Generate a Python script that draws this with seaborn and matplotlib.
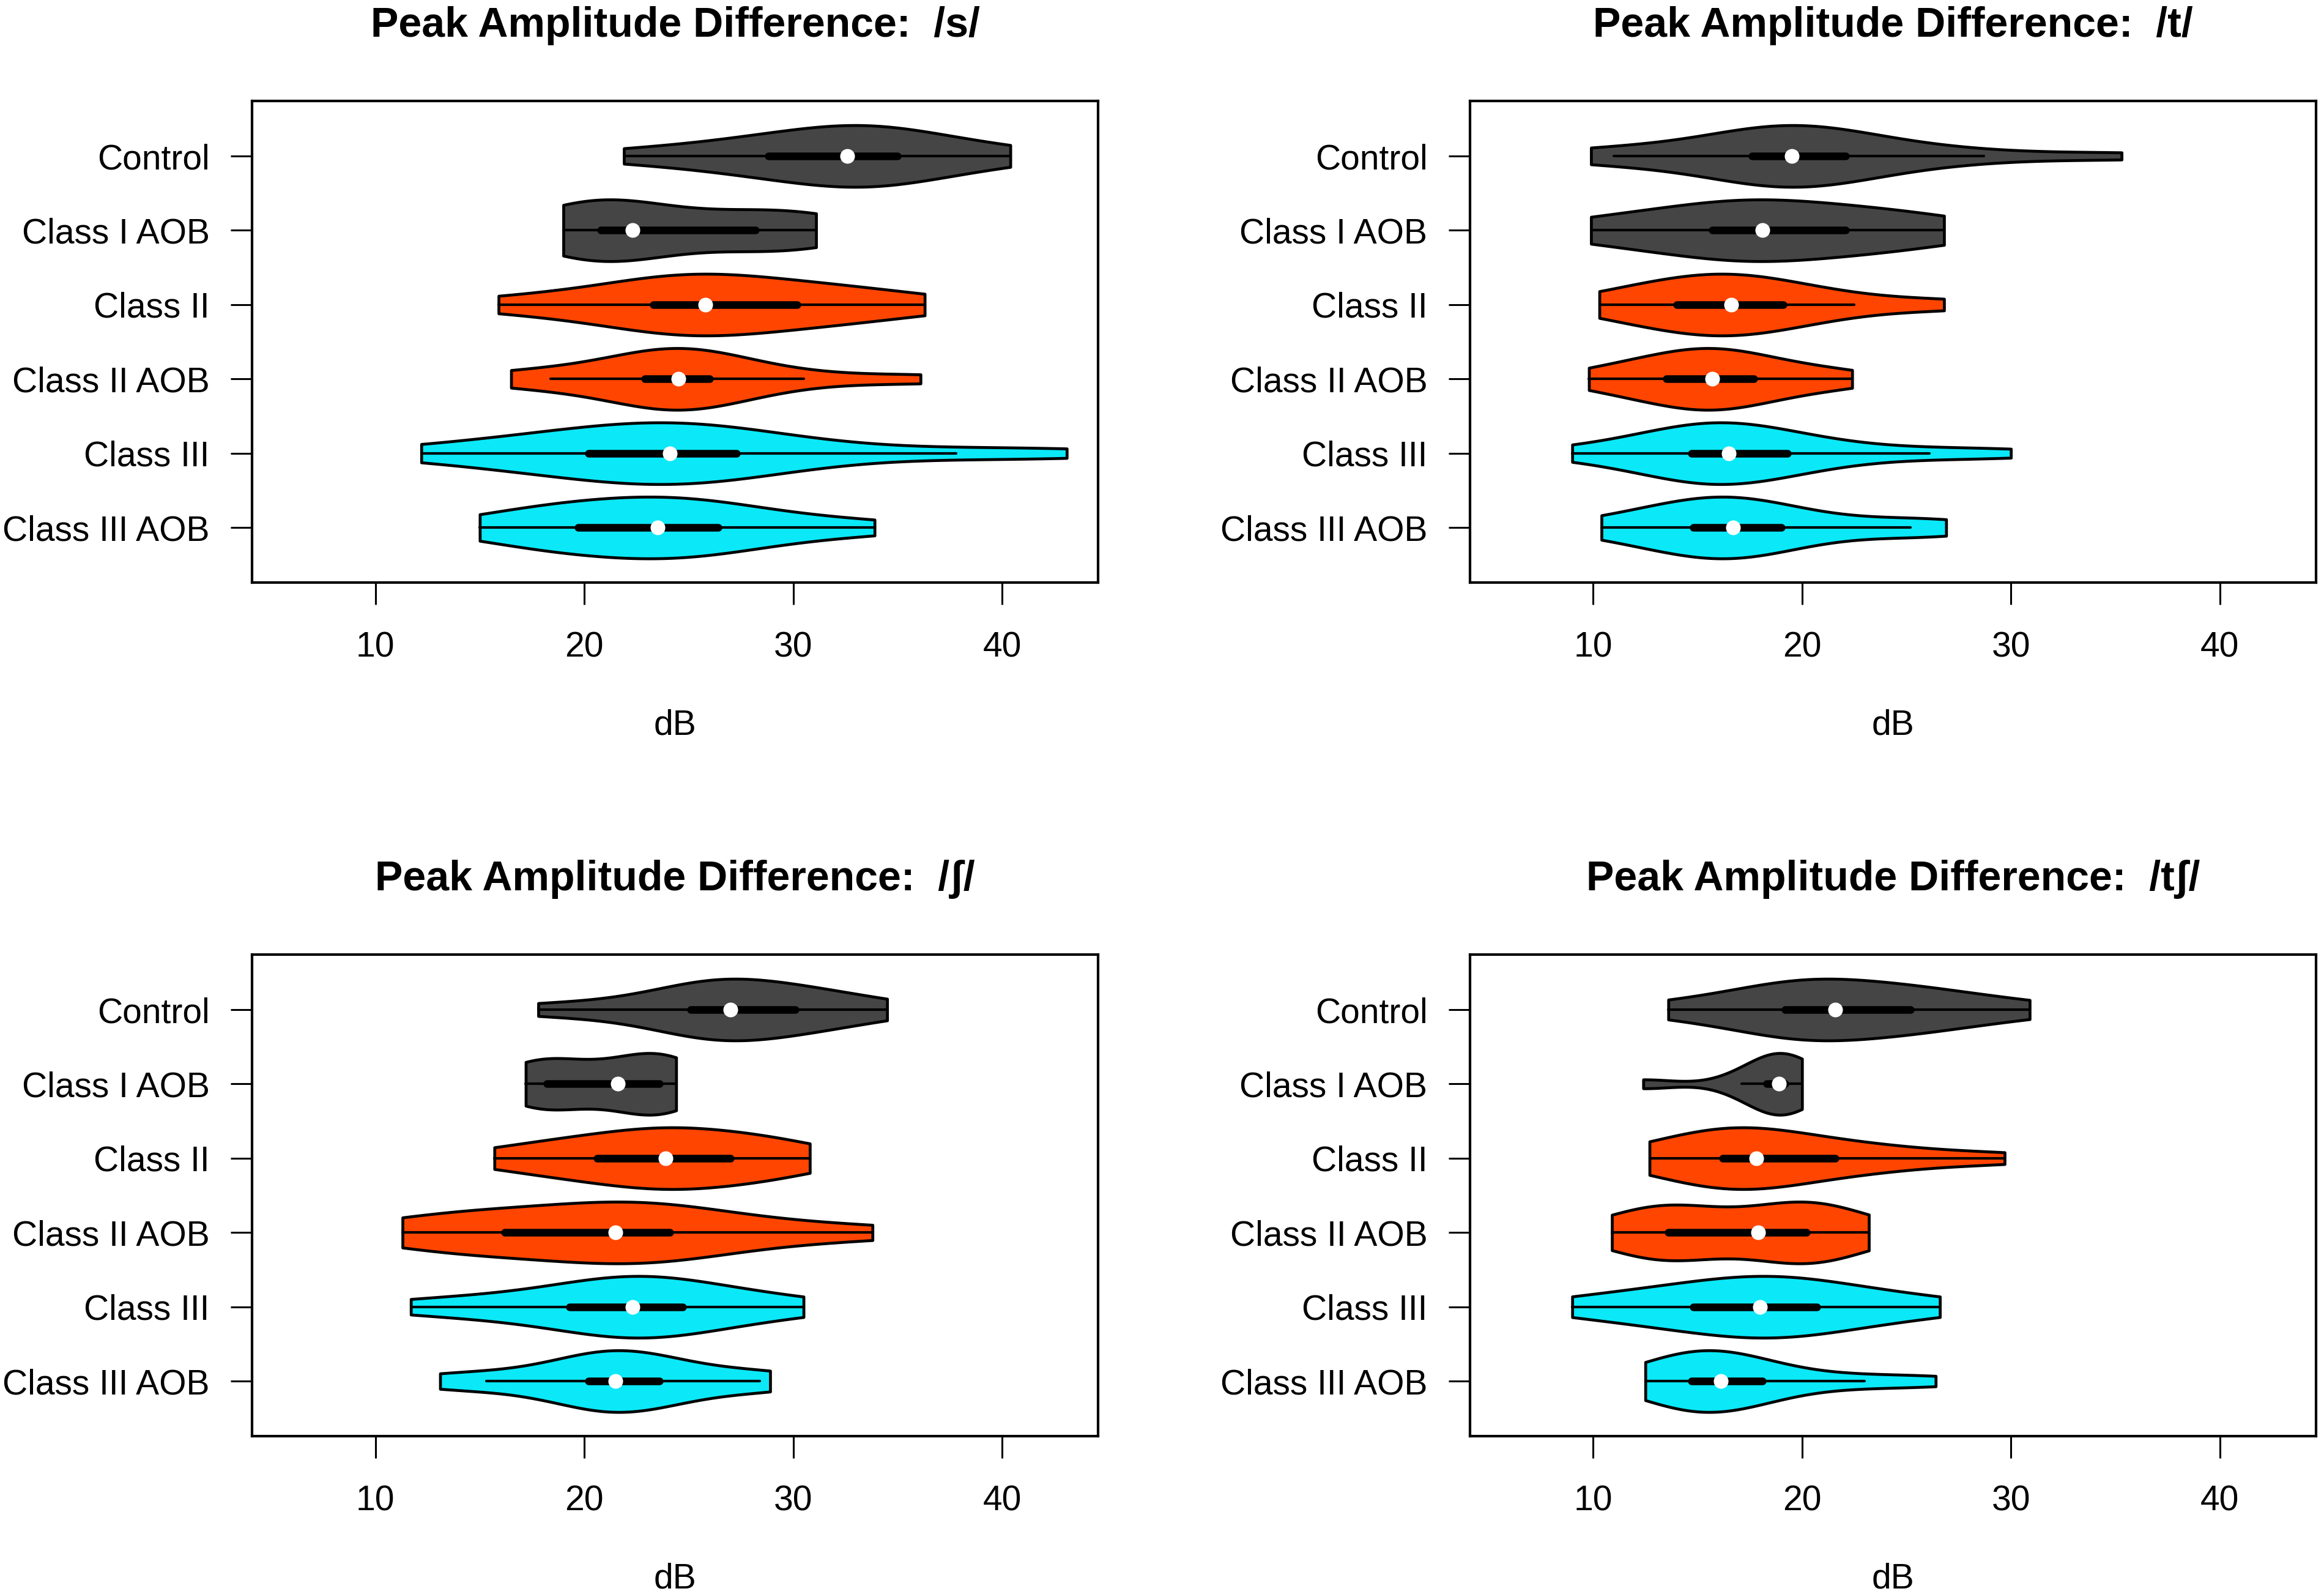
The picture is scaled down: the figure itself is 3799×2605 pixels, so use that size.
import numpy as np
import pandas as pd
import matplotlib
matplotlib.use("Agg")
import matplotlib.pyplot as plt
import seaborn as sns

groups = ["Control", "Class I AOB", "Class II", "Class II AOB", "Class III", "Class III AOB"]
colors = ["#454545", "#454545", "#FF4500", "#FF4500", "#0BE8F8", "#0BE8F8"]
phonemes = ["/s/", "/t/", "/ʃ/", "/tʃ/"]

# dB values, one list per group (order as in `groups`)
s_db = [
    [21.9, 25.5, 27.8, 28.8, 30.5, 31.8, 32.6, 33.2, 34.0, 35.0, 36.0, 37.8, 40.4],
    [19.0, 19.8, 20.8, 21.6, 22.3, 25.5, 28.2, 30.0, 31.1],
    [15.9, 19.5, 22.0, 23.3, 24.5, 25.2, 25.8, 27.0, 28.5, 30.2, 31.5, 33.5, 36.3],
    [16.5, 18.4, 21.5, 22.9, 23.6, 24.1, 24.5, 24.9, 25.4, 26.0, 27.5, 30.5, 36.1],
    [12.2, 15.5, 17.5, 19.0, 20.2, 21.8, 22.8, 23.5, 24.1, 24.6, 25.3, 26.2, 27.3, 29.0, 31.5, 37.8, 43.1],
    [15.0, 17.2, 18.8, 19.7, 21.0, 22.5, 23.5, 24.2, 25.2, 26.4, 27.8, 30.0, 33.9],
]
t_db = [
    [9.9, 11.0, 14.5, 16.5, 17.6, 18.3, 18.8, 19.2, 19.5, 19.9, 20.5, 21.2, 22.1, 23.5, 25.5, 28.7, 35.3],
    [9.9, 13.0, 15.7, 17.0, 18.1, 19.5, 22.1, 24.0, 26.8],
    [10.3, 12.0, 13.4, 14.0, 15.2, 16.0, 16.6, 17.2, 18.0, 19.1, 20.5, 22.5, 26.8],
    [9.8, 11.5, 12.8, 13.5, 14.4, 15.1, 15.7, 16.2, 16.9, 17.7, 18.8, 20.3, 22.4],
    [9.0, 11.5, 13.0, 14.0, 14.7, 15.1, 15.5, 16.0, 16.5, 17.0, 17.6, 18.4, 19.3, 20.5, 22.5, 26.1, 30.0],
    [10.4, 12.5, 13.8, 14.8, 15.6, 16.2, 16.7, 17.3, 18.1, 19.0, 21.5, 25.2, 26.9],
]
sh_db = [
    [17.8, 21.5, 24.0, 25.1, 25.9, 26.5, 27.0, 27.6, 28.8, 30.1, 30.8, 32.2, 34.5],
    [17.2, 17.8, 18.2, 19.8, 21.6, 22.8, 23.6, 24.0, 24.4],
    [15.7, 18.0, 19.8, 20.6, 22.2, 23.3, 23.9, 24.6, 25.6, 27.0, 28.0, 29.3, 30.8],
    [11.3, 13.0, 14.8, 16.2, 18.5, 20.5, 21.5, 22.4, 23.2, 24.1, 26.0, 29.0, 33.8],
    [11.7, 15.0, 17.5, 19.3, 20.6, 21.6, 22.3, 22.9, 23.7, 24.7, 26.0, 27.8, 30.5],
    [13.1, 15.3, 18.5, 20.2, 20.8, 21.2, 21.5, 21.9, 22.6, 23.6, 24.8, 28.4, 28.9],
]
tsh_db = [
    [13.6, 16.5, 18.3, 19.2, 20.0, 20.8, 21.6, 22.5, 24.2, 25.2, 26.2, 28.0, 30.9],
    [12.4, 17.1, 18.3, 18.6, 18.9, 19.1, 19.2, 19.6, 20.0],
    [12.7, 14.0, 15.3, 16.2, 16.7, 17.3, 17.8, 18.6, 20.0, 21.6, 23.0, 25.5, 29.7],
    [10.9, 12.5, 13.3, 13.6, 14.2, 15.5, 17.9, 19.2, 19.8, 20.2, 20.7, 21.6, 23.2],
    [9.0, 11.5, 13.5, 14.8, 16.0, 17.2, 18.0, 18.8, 19.8, 20.7, 22.0, 24.0, 26.6],
    [12.5, 13.3, 14.1, 14.7, 15.2, 15.6, 16.1, 16.6, 17.3, 18.1, 20.0, 23.0, 26.4],
]


def long_df(values):
    rows = [(g, v) for g, vals in zip(groups, values) for v in vals]
    return pd.DataFrame(rows, columns=["group", "dB"])


sns.set_style("white")
plt.rcParams["font.family"] = ["Liberation Sans", "DejaVu Sans"]
plt.rcParams.update({"text.color": "black", "axes.labelcolor": "black",
                     "xtick.color": "black", "ytick.color": "black"})

fig = plt.figure(figsize=(37.99, 26.05), dpi=100)
W, H = 0.3640, 0.3021
positions = [(0.1085, 0.6345, W, H), (0.6325, 0.6345, W, H),
             (0.1085, 0.0990, W, H), (0.6325, 0.0990, W, H)]

for pos, ph, vals in zip(positions, phonemes, [s_db, t_db, sh_db, tsh_db]):
    ax = fig.add_axes(pos)
    df = long_df(vals)
    sns.violinplot(data=df, x="dB", y="group", hue="group",
                   order=groups, hue_order=groups, palette=colors, saturation=1,
                   cut=0, density_norm="width", width=0.83,
                   inner="box", inner_kws=dict(box_width=9, whis_width=3, color="black"),
                   linewidth=3.4, linecolor="black", legend=False, ax=ax)
    # R-style white median dots
    med = df.groupby("group")["dB"].median().reindex(groups)
    sns.scatterplot(x=med.values, y=groups, color="white", s=300,
                    edgecolor="white", linewidth=0, zorder=10, ax=ax)
    ax.set_xlim(4.1, 44.6)
    ax.set_ylim(5.74, -0.74)
    ax.set_xticks([10, 20, 30, 40])
    ax.tick_params(axis="x", length=26, width=2.2, pad=31, labelsize=41, color="black")
    ax.tick_params(axis="y", length=25, width=2.2, pad=25, labelsize=41, color="black")
    ax.tick_params(left=True, bottom=True)
    for sp in ax.spines.values():
        sp.set_linewidth(3)
        sp.set_color("black")
    ax.set_xlabel("dB", fontsize=41, labelpad=53)
    ax.set_ylabel("")
    ax.set_title(f"Peak Amplitude Difference:  {ph}", fontsize=49, fontweight="bold", pad=76)

fig.savefig("out.png", dpi=100)
